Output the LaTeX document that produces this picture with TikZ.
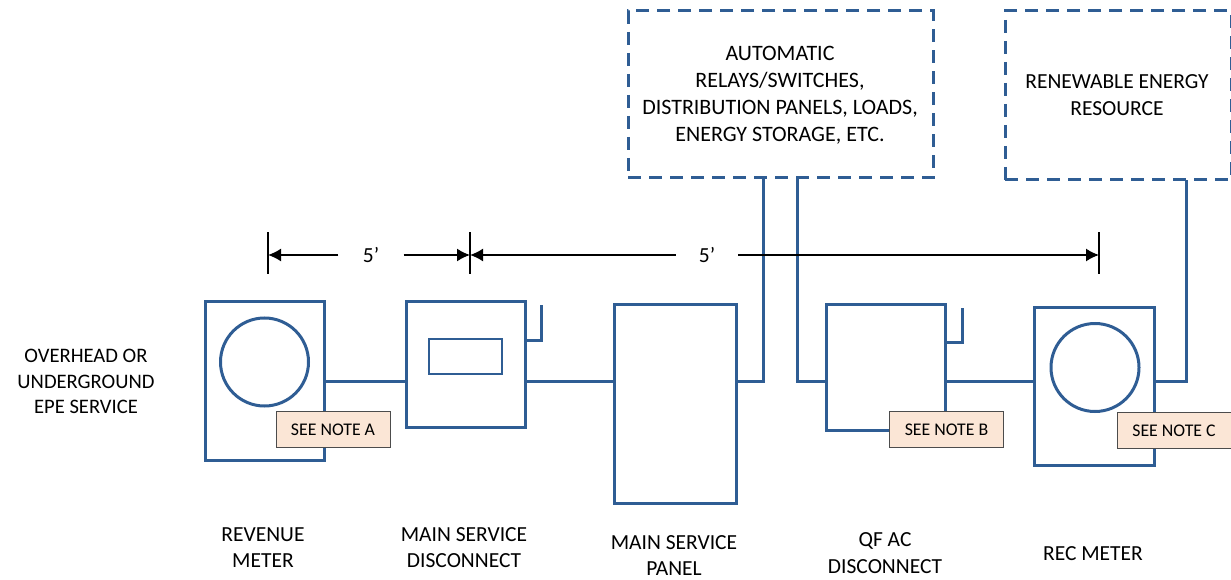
\documentclass[tikz,border=0pt]{standalone}
\usepackage{fontspec}
\setmainfont{Carlito}
\definecolor{wireblue}{HTML}{2F5D94}
\definecolor{notefill}{HTML}{FBE6D6}
\tikzset{%
equipment/.style={draw=wireblue,line width=3pt,inner sep=0pt},
wire/.style={draw=wireblue,line width=3pt,line join=miter},
resource/.style={draw=wireblue,line width=3pt,dash pattern=on 13pt off 8pt,inner sep=0pt},
note/.style={draw=black!70,line width=1pt,fill=notefill,minimum width=114pt,minimum height=36pt,inner sep=0pt,text depth=0pt,font=\fontsize{17.8}{20}\selectfont},
caption/.style={align=center,inner sep=0pt,font=\fontsize{21.5}{26.5}\selectfont},
dimline/.style={black,line width=1.6pt,-{Latex[length=13pt,width=13pt]}},
dimtick/.style={black,line width=1.6pt},
}
\usetikzlibrary{arrows.meta}

\begin{document}
\begin{tikzpicture}[x=1pt,y=-1pt]
\useasboundingbox (0,0) rectangle (1231,580);

\coordinate (bus) at (0,381);

% equipment
\node[equipment,minimum width=119pt,minimum height=159pt] (revenue) at (264.5,380.5) {};
\node[equipment,circle,minimum size=88pt] (revenuedial) at (264.5,362) {};
\node[equipment,minimum width=119pt,minimum height=126pt] (disconnect) at (465.5,364) {};
\node[equipment,line width=2pt,minimum width=73pt,minimum height=35pt] (window) at (465.5,356.5) {};
\node[equipment,minimum width=122pt,minimum height=199pt] (panel) at (675,403.5) {};
\node[equipment,minimum width=119pt,minimum height=126pt] (qf) at (885.5,367) {};
\node[equipment,minimum width=120pt,minimum height=158pt] (rec) at (1094,386) {};
\node[equipment,circle,minimum size=88pt] (recdial) at (1095,367.5) {};

% resources
\node[resource,minimum width=305pt,minimum height=167pt] (auto) at (780.5,94.5) {};
\node[resource,minimum width=226pt,minimum height=169pt] (renew) at (1118,95.5) {};
\node[caption,font=\fontsize{22}{27}\selectfont] (autotext) at (780,95.5) {AUTOMATIC\\RELAYS/SWITCHES,\\DISTRIBUTION PANELS, LOADS,\\ENERGY STORAGE, ETC.};
\node[caption] (renewtext) at (1117,95) {RENEWABLE ENERGY\\RESOURCE};

% wires
\coordinate (autoin) at (763,178);
\coordinate (autoout) at (797,178);
\coordinate (renewin) at (1186,180);
\coordinate (hooka) at (541,340);
\coordinate (hookb) at (962,342);
\draw[wire] (revenue.east |- bus) -- (disconnect.west |- bus);
\draw[wire] (disconnect.east |- bus) -- (panel.west |- bus);
\draw[wire] (panel.east |- bus) -- (autoin |- bus) -- (autoin);
\draw[wire] (autoout) -- (autoout |- bus) -- (qf.west |- bus);
\draw[wire] (qf.east |- bus) -- (rec.west |- bus);
\draw[wire] (rec.east |- bus) -- (renewin |- bus) -- (renewin);
\draw[wire] (disconnect.east |- hooka) -- (hooka) -- ++(0,-35);
\draw[wire] (qf.east |- hookb) -- (hookb) -- ++(0,-34);

% notes
\node[note] (notea) at (333,429) {\raisebox{-1.5pt}{SEE NOTE A}};
\node[note] (noteb) at (946.5,429) {\raisebox{-1.5pt}{SEE NOTE B}};
\node[note] (notec) at (1174,430) {\raisebox{-1.5pt}{SEE NOTE C}};

% dimensions
\coordinate (ticka) at (268,255);
\coordinate (tickb) at (470,255);
\coordinate (tickc) at (1099,255);
\node[caption,minimum width=65pt] (fivea) at (371,255) {5’};
\node[caption,minimum width=62pt] (fiveb) at (707,255) {5’};
\draw[dimtick] (268,232) -- (268,274);
\draw[dimtick] (470,232) -- (470,274);
\draw[dimtick] (1099,232) -- (1099,274);
\draw[dimline] (fivea.west) -- (ticka);
\draw[dimline] (fivea.east) -- (tickb);
\draw[dimline] (fiveb.west) -- (tickb);
\draw[dimline] (fiveb.east) -- (tickc);

% labels
\node[caption,font=\fontsize{20.6}{25.5}\selectfont] (service) at (86,381.5) {OVERHEAD OR\\UNDERGROUND\\EPE SERVICE};
\node[caption] (revenuetext) at (263,547.5) {REVENUE\\METER};
\node[caption] (disconnecttext) at (464,547.5) {MAIN SERVICE\\DISCONNECT};
\node[caption] (paneltext) at (674,555.5) {MAIN SERVICE\\PANEL};
\node[caption] (qftext) at (885,553) {QF AC\\DISCONNECT};
\node[caption] (rectext) at (1093,554) {REC METER};
\end{tikzpicture}
\end{document}
